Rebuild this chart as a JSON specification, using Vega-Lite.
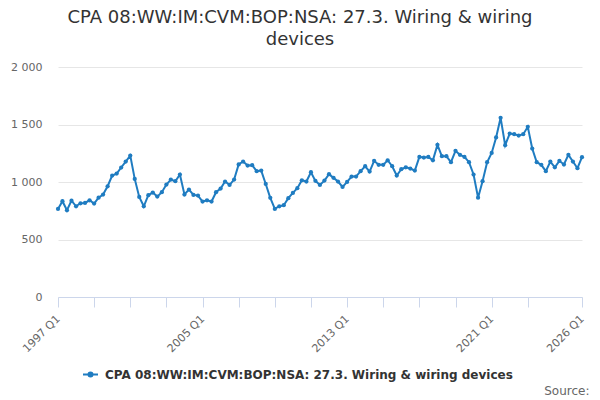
{
  "$schema": "https://vega.github.io/schema/vega-lite/v6.json",
  "width": 524,
  "height": 230,
  "autosize": "none",
  "padding": {"left": 58, "top": 67, "right": 18, "bottom": 103},
  "background": "white",
  "config": {
    "font": "DejaVu Sans",
    "view": {"stroke": null}
  },
  "title": {
    "text": ["CPA 08:WW:IM:CVM:BOP:NSA: 27.3. Wiring & wiring", "devices"],
    "fontSize": 18,
    "fontWeight": "normal",
    "color": "#333333",
    "anchor": "middle",
    "dx": -20,
    "lineHeight": 22,
    "offset": 12
  },
  "data": {
    "values": [
      {"date": "1997-01-01", "value": 766}, {"date": "1997-04-01", "value": 833}, {"date": "1997-07-01", "value": 754}, {"date": "1997-10-01", "value": 838},
      {"date": "1998-01-01", "value": 789}, {"date": "1998-04-01", "value": 815}, {"date": "1998-07-01", "value": 818}, {"date": "1998-10-01", "value": 841},
      {"date": "1999-01-01", "value": 812}, {"date": "1999-04-01", "value": 864}, {"date": "1999-07-01", "value": 891}, {"date": "1999-10-01", "value": 963},
      {"date": "2000-01-01", "value": 1056}, {"date": "2000-04-01", "value": 1073}, {"date": "2000-07-01", "value": 1126}, {"date": "2000-10-01", "value": 1178},
      {"date": "2001-01-01", "value": 1230}, {"date": "2001-04-01", "value": 1027}, {"date": "2001-07-01", "value": 870}, {"date": "2001-10-01", "value": 789},
      {"date": "2002-01-01", "value": 885}, {"date": "2002-04-01", "value": 908}, {"date": "2002-07-01", "value": 873}, {"date": "2002-10-01", "value": 911},
      {"date": "2003-01-01", "value": 978}, {"date": "2003-04-01", "value": 1021}, {"date": "2003-07-01", "value": 1007}, {"date": "2003-10-01", "value": 1065},
      {"date": "2004-01-01", "value": 891}, {"date": "2004-04-01", "value": 934}, {"date": "2004-07-01", "value": 888}, {"date": "2004-10-01", "value": 882},
      {"date": "2005-01-01", "value": 830}, {"date": "2005-04-01", "value": 841}, {"date": "2005-07-01", "value": 830}, {"date": "2005-10-01", "value": 911},
      {"date": "2006-01-01", "value": 943}, {"date": "2006-04-01", "value": 1004}, {"date": "2006-07-01", "value": 975}, {"date": "2006-10-01", "value": 1021},
      {"date": "2007-01-01", "value": 1153}, {"date": "2007-04-01", "value": 1178}, {"date": "2007-07-01", "value": 1143}, {"date": "2007-10-01", "value": 1146},
      {"date": "2008-01-01", "value": 1094}, {"date": "2008-04-01", "value": 1099}, {"date": "2008-07-01", "value": 983}, {"date": "2008-10-01", "value": 862},
      {"date": "2009-01-01", "value": 766}, {"date": "2009-04-01", "value": 789}, {"date": "2009-07-01", "value": 798}, {"date": "2009-10-01", "value": 859},
      {"date": "2010-01-01", "value": 905}, {"date": "2010-04-01", "value": 946}, {"date": "2010-07-01", "value": 1015}, {"date": "2010-10-01", "value": 1004},
      {"date": "2011-01-01", "value": 1085}, {"date": "2011-04-01", "value": 1010}, {"date": "2011-07-01", "value": 975}, {"date": "2011-10-01", "value": 1012},
      {"date": "2012-01-01", "value": 1068}, {"date": "2012-04-01", "value": 1036}, {"date": "2012-07-01", "value": 1004}, {"date": "2012-10-01", "value": 957},
      {"date": "2013-01-01", "value": 1001}, {"date": "2013-04-01", "value": 1047}, {"date": "2013-07-01", "value": 1047}, {"date": "2013-10-01", "value": 1094},
      {"date": "2014-01-01", "value": 1137}, {"date": "2014-04-01", "value": 1091}, {"date": "2014-07-01", "value": 1184}, {"date": "2014-10-01", "value": 1149},
      {"date": "2015-01-01", "value": 1149}, {"date": "2015-04-01", "value": 1189}, {"date": "2015-07-01", "value": 1137}, {"date": "2015-10-01", "value": 1056},
      {"date": "2016-01-01", "value": 1111}, {"date": "2016-04-01", "value": 1128}, {"date": "2016-07-01", "value": 1117}, {"date": "2016-10-01", "value": 1099},
      {"date": "2017-01-01", "value": 1218}, {"date": "2017-04-01", "value": 1213}, {"date": "2017-07-01", "value": 1218}, {"date": "2017-10-01", "value": 1189},
      {"date": "2018-01-01", "value": 1323}, {"date": "2018-04-01", "value": 1224}, {"date": "2018-07-01", "value": 1224}, {"date": "2018-10-01", "value": 1172},
      {"date": "2019-01-01", "value": 1271}, {"date": "2019-04-01", "value": 1236}, {"date": "2019-07-01", "value": 1218}, {"date": "2019-10-01", "value": 1172},
      {"date": "2020-01-01", "value": 1065}, {"date": "2020-04-01", "value": 864}, {"date": "2020-07-01", "value": 1007}, {"date": "2020-10-01", "value": 1172},
      {"date": "2021-01-01", "value": 1253}, {"date": "2021-04-01", "value": 1387}, {"date": "2021-07-01", "value": 1558}, {"date": "2021-10-01", "value": 1320},
      {"date": "2022-01-01", "value": 1421}, {"date": "2022-04-01", "value": 1416}, {"date": "2022-07-01", "value": 1404}, {"date": "2022-10-01", "value": 1416},
      {"date": "2023-01-01", "value": 1480}, {"date": "2023-04-01", "value": 1291}, {"date": "2023-07-01", "value": 1172}, {"date": "2023-10-01", "value": 1149},
      {"date": "2024-01-01", "value": 1094}, {"date": "2024-04-01", "value": 1178}, {"date": "2024-07-01", "value": 1128}, {"date": "2024-10-01", "value": 1184},
      {"date": "2025-01-01", "value": 1152}, {"date": "2025-04-01", "value": 1236}, {"date": "2025-07-01", "value": 1178}, {"date": "2025-10-01", "value": 1120},
      {"date": "2026-01-01", "value": 1216}
    ]
  },
  "mark": {
    "type": "line",
    "strokeWidth": 2,
    "point": {"filled": true, "size": 18}
  },
  "encoding": {
    "x": {
      "field": "date",
      "type": "temporal",
      "scale": {
        "type": "utc",
        "domain": [
          {"year": 1997, "month": 1, "date": 1, "utc": true},
          {"year": 2026, "month": 1, "date": 1, "utc": true}
        ]
      },
      "axis": {
        "title": "Source:",
        "titleFontSize": 12,
        "titleFontWeight": "normal",
        "titleColor": "#666666",
        "titleAlign": "right",
        "titleBaseline": "alphabetic",
        "titleX": 531,
        "titleY": 97,
        "values": [
          {"year": 1997, "month": 1, "date": 1, "utc": true},
          {"year": 1999, "month": 1, "date": 1, "utc": true},
          {"year": 2001, "month": 1, "date": 1, "utc": true},
          {"year": 2003, "month": 1, "date": 1, "utc": true},
          {"year": 2005, "month": 1, "date": 1, "utc": true},
          {"year": 2007, "month": 1, "date": 1, "utc": true},
          {"year": 2009, "month": 1, "date": 1, "utc": true},
          {"year": 2011, "month": 1, "date": 1, "utc": true},
          {"year": 2013, "month": 1, "date": 1, "utc": true},
          {"year": 2015, "month": 1, "date": 1, "utc": true},
          {"year": 2017, "month": 1, "date": 1, "utc": true},
          {"year": 2019, "month": 1, "date": 1, "utc": true},
          {"year": 2021, "month": 1, "date": 1, "utc": true},
          {"year": 2023, "month": 1, "date": 1, "utc": true},
          {"year": 2026, "month": 1, "date": 1, "utc": true}
        ],
        "labelExpr": "indexof([1997, 2005, 2013, 2021, 2026], utcyear(datum.value)) >= 0 ? utcFormat(datum.value, '%Y Q%q') : ''",
        "labelAngle": -45,
        "labelAlign": "right",
        "labelBaseline": "middle",
        "labelFontSize": 11,
        "labelColor": "#666666",
        "labelPadding": 10,
        "labelOverlap": false,
        "labelFlush": false,
        "domainColor": "#ccd6eb",
        "tickColor": "#ccd6eb",
        "tickSize": 10,
        "grid": false
      }
    },
    "y": {
      "field": "value",
      "type": "quantitative",
      "scale": {"domain": [0, 2000]},
      "axis": {
        "title": null,
        "values": [0, 500, 1000, 1500, 2000],
        "labelExpr": "replace(format(datum.value, ','), ',', ' ')",
        "labelFontSize": 11,
        "labelColor": "#666666",
        "labelPadding": 16,
        "domain": false,
        "ticks": false,
        "gridColor": "#e6e6e6"
      }
    },
    "color": {
      "datum": "CPA 08:WW:IM:CVM:BOP:NSA: 27.3. Wiring & wiring devices",
      "scale": {"range": ["#1f7cc1"]},
      "legend": {
        "title": null,
        "orient": "none",
        "legendX": 24,
        "legendY": 299,
        "symbolType": "M-1,0L1,0M-0.27,0A0.27,0.27,0,1,1,0.27,0A0.27,0.27,0,1,1,-0.27,0Z",
        "symbolFillColor": "#1f7cc1",
        "symbolStrokeColor": "#1f7cc1",
        "symbolStrokeWidth": 2,
        "symbolSize": 225,
        "labelOffset": 6,
        "labelFontSize": 12,
        "labelFontWeight": "bold",
        "labelColor": "#333333",
        "labelLimit": 600
      }
    }
  }
}
